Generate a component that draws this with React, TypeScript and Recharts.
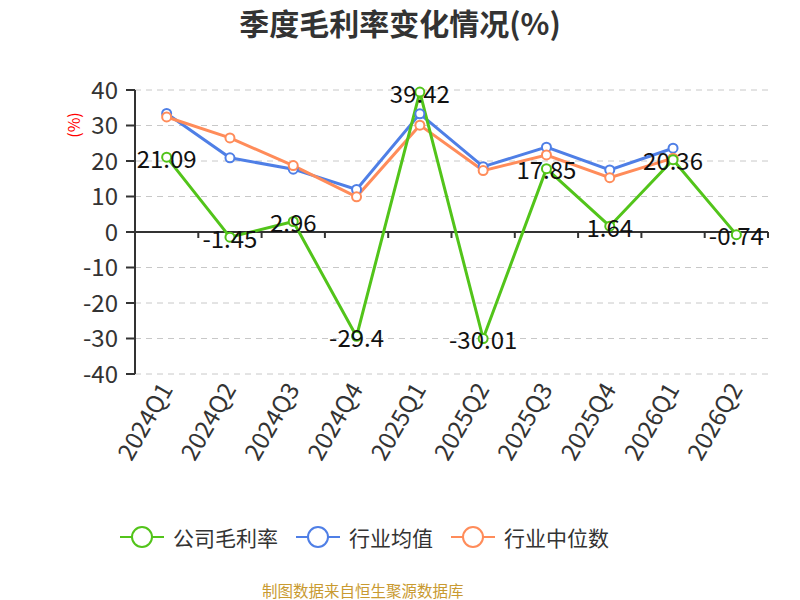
import {
  LineChart,
  Line,
  XAxis,
  YAxis,
  CartesianGrid,
  ReferenceLine,
  LabelList,
} from "recharts";

const quarters = ["2024Q1", "2024Q2", "2024Q3", "2024Q4", "2025Q1", "2025Q2", "2025Q3", "2025Q4", "2026Q1", "2026Q2"];
const companyMargin = [21.09, -1.45, 2.96, -29.4, 39.42, -30.01, 17.85, 1.64, 20.36, -0.74];
const industryMean = [33.4, 20.9, 17.7, 12.0, 33.3, 18.4, 23.9, 17.5, 23.6, null];
const industryMedian = [32.4, 26.5, 18.7, 9.9, 30.1, 17.3, 21.7, 15.3, 20.8, null];
const yTicks = [-40, -30, -20, -10, 0, 10, 20, 30, 40];

const data = quarters.map((q, i) => ({
  quarter: q,
  company: companyMargin[i],
  mean: industryMean[i],
  median: industryMedian[i],
}));

const GREEN = "#52C41A";
const BLUE = "#4F7FE6";
const ORANGE = "#FF8C5A";
const FONT = "'Noto Sans CJK SC', 'Noto Sans', sans-serif";

// plot box
const PLOT_TOP = 90;
const PLOT_BOTTOM = 374;
const PLOT_LEFT = 135;
const PLOT_RIGHT = 768;
const ZERO_Y = (PLOT_TOP + PLOT_BOTTOM) / 2;
const X_AXIS_H = 80;

const legendItems = [
  { name: "公司毛利率", color: GREEN },
  { name: "行业均值", color: BLUE },
  { name: "行业中位数", color: ORANGE },
];

function QuarterTick(props: any) {
  const { x, y, payload } = props;
  const half = payload.offset ?? (PLOT_RIGHT - PLOT_LEFT) / quarters.length / 2;
  const tx = x - 2;
  const ty = y + 2;
  return (
    <g>
      <line x1={x + half} x2={x + half} y1={ZERO_Y} y2={ZERO_Y + 6} stroke="#333" strokeWidth={2} />
      <text
        x={tx}
        y={ty}
        transform={`rotate(-60 ${tx} ${ty})`}
        textAnchor="end"
        dominantBaseline="central"
        fontSize={24}
        fill="#333"
        fontFamily={FONT}
      >
        {payload.value}
      </text>
    </g>
  );
}

function PointLabel(props: any) {
  const { x, y, value } = props;
  return (
    <text x={x} y={y} textAnchor="middle" dominantBaseline="central" fontSize={24} fill="#111" fontFamily={FONT}>
      {value}
    </text>
  );
}

function UnitLabel(props: any) {
  const { viewBox } = props;
  const lx = viewBox.x - 2;
  const ly = viewBox.y + 35;
  return (
    <text
      x={lx}
      y={ly}
      transform={`rotate(-90 ${lx} ${ly})`}
      textAnchor="middle"
      dominantBaseline="central"
      fontSize={16}
      fill="#FF0000"
      fontFamily={FONT}
    >
      (%)
    </text>
  );
}

export default function App() {
  return (
    <div style={{ position: "absolute", left: 0, top: 0, width: 800, height: 600, background: "#fff", fontFamily: FONT }}>
      <div
        style={{
          position: "absolute",
          top: 3,
          left: 0,
          width: 800,
          textAlign: "center",
          fontSize: 30,
          fontWeight: "bold",
          color: "#333",
          lineHeight: "38px",
        }}
      >
        季度毛利率变化情况(%)
      </div>

      <LineChart
        width={800}
        height={600}
        data={data}
        margin={{ top: PLOT_TOP, right: 800 - PLOT_RIGHT, bottom: 600 - PLOT_BOTTOM - X_AXIS_H, left: PLOT_LEFT - 60 }}
      >
        <CartesianGrid vertical={false} stroke="#c8c8c8" strokeDasharray="6 5" />
        <XAxis
          dataKey="quarter"
          scale="band"
          height={X_AXIS_H}
          axisLine={false}
          tickLine={false}
          tickSize={0}
          tickMargin={8}
          interval={0}
          tick={<QuarterTick />}
        />
        <YAxis
          width={60}
          domain={[-40, 40]}
          ticks={yTicks}
          interval={0}
          axisLine={{ stroke: "#333", strokeWidth: 2 }}
          tickLine={{ stroke: "#333", strokeWidth: 2 }}
          tickSize={9}
          tickMargin={8}
          tick={{ fontSize: 24, fill: "#333", fontFamily: FONT }}
          label={<UnitLabel />}
        />
        <ReferenceLine y={0} stroke="#333" strokeWidth={2} />
        <Line
          dataKey="mean"
          stroke={BLUE}
          strokeWidth={3}
          dot={{ r: 4.5, fill: "#fff", stroke: BLUE, strokeWidth: 2 }}
          isAnimationActive={false}
        />
        <Line
          dataKey="median"
          stroke={ORANGE}
          strokeWidth={3}
          dot={{ r: 4.5, fill: "#fff", stroke: ORANGE, strokeWidth: 2 }}
          isAnimationActive={false}
        />
        <Line
          dataKey="company"
          stroke={GREEN}
          strokeWidth={3}
          dot={{ r: 4.5, fill: "#fff", stroke: GREEN, strokeWidth: 2 }}
          isAnimationActive={false}
        >
          <LabelList dataKey="company" content={<PointLabel />} />
        </Line>
      </LineChart>

      <div style={{ position: "absolute", top: 523, left: 120, display: "flex", alignItems: "center", height: 28 }}>
        {legendItems.map((item, i) => (
          <div key={item.name} style={{ display: "flex", alignItems: "center", marginLeft: i === 0 ? 0 : 18 }}>
            <svg width={44} height={26}>
              <line x1={0} x2={44} y1={13} y2={13} stroke={item.color} strokeWidth={2} />
              <circle cx={22} cy={13} r={10} fill="#fff" stroke={item.color} strokeWidth={2} />
            </svg>
            <span style={{ marginLeft: 9, fontSize: 21, color: "#333", lineHeight: "28px" }}>{item.name}</span>
          </div>
        ))}
      </div>

      <div
        style={{
          position: "absolute",
          top: 579,
          left: 262,
          width: 200,
          textAlign: "center",
          fontSize: 15.5,
          color: "#C99A30",
          lineHeight: "22px",
          whiteSpace: "nowrap",
        }}
      >
        制图数据来自恒生聚源数据库
      </div>
    </div>
  );
}
